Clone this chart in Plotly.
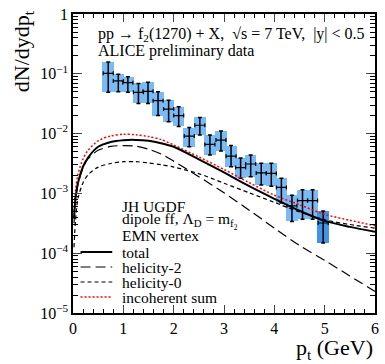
import plotly.graph_objects as go

# ---------------- data ----------------
f2_pt = [0.70, 0.90, 1.09, 1.30, 1.49, 1.69, 1.90, 2.10, 2.31, 2.52, 2.72,
         2.94, 3.14, 3.33, 3.53, 3.74, 3.94, 4.14, 4.35, 4.56, 4.76, 4.97]
f2_yield = [0.102, 0.076, 0.071, 0.049, 0.051, 0.0355, 0.0257, 0.020, 0.0091,
            0.0138, 0.0066, 0.0078, 0.0042, 0.0027, 0.0031, 0.0022, 0.00216,
            0.00126, 0.00062, 0.00076, 0.00076, 0.00032]
f2_upper = [0.158, 0.098, 0.089, 0.069, 0.072, 0.050, 0.036, 0.028, 0.0126,
            0.0186, 0.0095, 0.011, 0.0063, 0.0039, 0.0044, 0.0032, 0.0032,
            0.0018, 0.00093, 0.00115, 0.00115, 0.00051]
f2_lower = [0.049, 0.050, 0.049, 0.032, 0.032, 0.020, 0.0158, 0.0132, 0.0060,
            0.0095, 0.0044, 0.0051, 0.0028, 0.0018, 0.0019, 0.00138, 0.00132,
            0.00069, 0.00034, 0.00037, 0.00037, 0.000148]
f2_pt_halfbin = [0.1] * len(f2_pt)
f2_box_halfwidth = 0.115

curve_pt = [0.02, 0.05, 0.1, 0.2, 0.3, 0.5, 0.75, 1.0, 1.25, 1.5, 1.75, 2.0,
            2.5, 3.0, 3.5, 4.0, 4.5, 5.0, 5.5, 6.0]
total_log10 = [-3.42, -3.08, -2.82, -2.55, -2.40, -2.22, -2.14, -2.11, -2.105,
               -2.12, -2.16, -2.22, -2.43, -2.65, -2.88, -3.09, -3.29, -3.46,
               -3.56, -3.64]
hel2_log10 = [-3.5, -3.12, -2.85, -2.57, -2.42, -2.28, -2.215, -2.20, -2.21,
              -2.26, -2.34, -2.46, -2.72, -2.99, -3.28, -3.58, -3.87, -4.12,
              -4.38, -4.64]
hel0_log10 = [-3.9, -3.45, -3.08, -2.82, -2.69, -2.56, -2.50, -2.47, -2.47,
              -2.49, -2.52, -2.56, -2.67, -2.83, -2.99, -3.15, -3.31, -3.44,
              -3.52, -3.58]
incoh_log10 = [-3.3, -2.95, -2.68, -2.42, -2.28, -2.12, -2.04, -2.01, -2.02,
               -2.05, -2.10, -2.19, -2.39, -2.60, -2.82, -3.03, -3.19, -3.35,
               -3.45, -3.54]

y_tickvals = [1e-5, 1e-4, 1e-3, 1e-2, 1e-1, 1]
y_ticktext = ["10<sup>\u22125</sup>", "10<sup>\u22124</sup>", "10<sup>\u22123</sup>",
              "10<sup>\u22122</sup>", "10<sup>\u22121</sup>", "1"]
x_tickvals = [0, 1, 2, 3, 4, 5, 6]

legend_labels = ["total", "helicity-2", "helicity-0", "incoherent sum"]
legend_header = ["JH UGDF", "dipole ff, \u039b<sub>D</sub> = m<sub>f<sub>2</sub></sub>", "EMN vertex"]
header_lines = ["pp \u2192 f<sub>2</sub>(1270) + X,  \u221as = 7 TeV,  |y| < 0.5",
                "ALICE preliminary data"]

FONT = "Liberation Serif, Times New Roman, serif"
BOX = "rgb(122,186,245)"

fig = go.Figure()

# systematic boxes
box_colors = [BOX] * (len(f2_pt) - 1) + ["rgb(66,146,232)"]
fig.add_trace(go.Bar(
    x=f2_pt, base=f2_lower,
    y=[u - l for u, l in zip(f2_upper, f2_lower)],
    width=[2 * f2_box_halfwidth] * len(f2_pt),
    marker=dict(color=box_colors, line=dict(width=0)),
    showlegend=False, hoverinfo="skip"))

# error bars
fig.add_trace(go.Scatter(
    x=f2_pt, y=f2_yield, mode="markers",
    marker=dict(size=1, color="black"),
    error_y=dict(type="data", symmetric=False,
                 array=[u - v for u, v in zip(f2_upper, f2_yield)],
                 arrayminus=[v - l for v, l in zip(f2_yield, f2_lower)],
                 color="black", thickness=1.5, width=2),
    error_x=dict(type="data", array=f2_pt_halfbin, color="black",
                 thickness=1.2, width=2),
    showlegend=False))

curves = [
    (incoh_log10, dict(color="red", width=1.5, dash="2px,2px")),
    (hel0_log10, dict(color="black", width=1.2, dash="4px,3px")),
    (hel2_log10, dict(color="black", width=1.2, dash="10px,5px")),
    (total_log10, dict(color="black", width=2)),
]
for lg, ln in curves:
    fig.add_trace(go.Scatter(
        x=curve_pt, y=[10 ** v for v in lg], mode="lines",
        line=dict(shape="spline", smoothing=0.8, **ln), showlegend=False))

fig.update_layout(
    width=385, height=364,
    margin=dict(l=73, r=6, t=14, b=51),
    paper_bgcolor="white", plot_bgcolor="white",
    font=dict(family=FONT, size=16, color="black"),
    barmode="overlay", bargap=0,
)
fig.update_xaxes(
    range=[0, 6], tickvals=x_tickvals, ticks="inside", ticklen=8, tickwidth=1,
    showline=True, linecolor="black", linewidth=1.5, mirror="allticks",
    showgrid=False, zeroline=False,
    minor=dict(dtick=0.2, ticks="inside", ticklen=4, tickcolor="black", showgrid=False),
    tickfont=dict(size=16, family=FONT),
)
fig.update_yaxes(
    type="log", range=[-5, 0], tickvals=y_tickvals, ticktext=y_ticktext,
    ticks="inside", ticklen=9, tickwidth=1,
    showline=True, linecolor="black", linewidth=1.5, mirror="allticks",
    showgrid=False, zeroline=False,
    minor=dict(dtick="D1", ticks="inside", ticklen=5, tickcolor="black", showgrid=False),
    tickfont=dict(size=16, family=FONT),
)

# axis titles
fig.add_annotation(text="dN/dydp<sub>t</sub>", xref="paper", yref="paper",
                   x=-0.165, y=1.02, xanchor="center", yanchor="top",
                   textangle=-90, showarrow=False, font=dict(size=22, family=FONT))
fig.add_annotation(text="p<sub>t</sub> (GeV)", xref="paper", yref="paper",
                   x=1.0, y=-36 / 299, xanchor="right", yanchor="middle",
                   showarrow=False, font=dict(size=22, family=FONT))

# header
for i, t in enumerate(header_lines):
    fig.add_annotation(text=t, xref="paper", yref="paper", x=0.077,
                       y=1 - (21 + 16 * i) / 299, xanchor="left", yanchor="middle",
                       showarrow=False, font=dict(size=16, family=FONT))

# legend header
for i, t in enumerate(legend_header):
    fig.add_annotation(text=t, xref="paper", yref="paper", x=0.157,
                       y=1 - (192 + 15 * i) / 299, xanchor="left", yanchor="middle",
                       showarrow=False, font=dict(size=15.5, family=FONT))

# legend entries
leg_styles = [curves[3][1], curves[2][1], curves[1][1], curves[0][1]]
for i, (t, ln) in enumerate(zip(legend_labels, leg_styles)):
    yp = 1 - (238 + 15 * i) / 299
    fig.add_shape(type="line", xref="paper", yref="paper", x0=0.025, x1=0.13,
                  y0=yp, y1=yp, line=ln)
    fig.add_annotation(text=t, xref="paper", yref="paper", x=0.157, y=yp,
                       xanchor="left", yanchor="middle", showarrow=False,
                       font=dict(size=15.5, family=FONT))

fig.write_html("out.html", config={"displayModeBar": False},
               post_script="document.body.style.margin='0px';document.body.style.padding='0px';")
